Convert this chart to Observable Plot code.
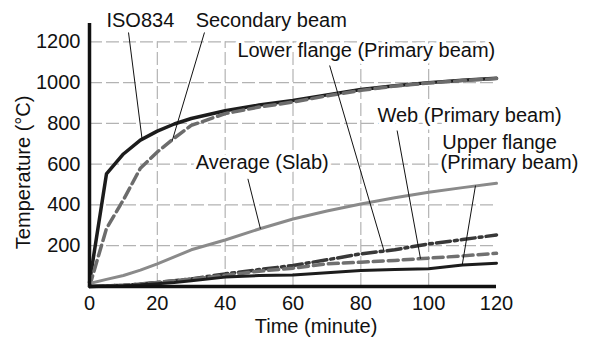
<!DOCTYPE html>
<html><head><meta charset="utf-8">
<script src="https://cdn.jsdelivr.net/npm/d3@7"></script>
<script src="https://cdn.jsdelivr.net/npm/@observablehq/plot@0.6"></script>
<style>body{margin:0;background:#fff} #chart svg{display:block}</style>
</head><body><div id="chart"></div>
<script>
// ---- data ----
const time          = [0, 5, 10, 15, 20, 25, 30, 40, 50, 60, 70, 80, 90, 100, 110, 120];
const iso834        = [20, 552, 650, 718, 762, 797, 824, 862, 890, 912, 940, 966, 985, 1000, 1012, 1022];
const secondaryBeam = [0, 284, 425, 580, 660, 728, 790, 848, 880, 905, 935, 962, 983, 998, 1010, 1020];
const averageSlab   = [15, 35, 54, 80, 111, 145, 180, 228, 282, 331, 370, 405, 435, 462, 485, 506];
const lowerFlange   = [0, 3, 6, 12, 20, 28, 37, 62, 83, 103, 131, 160, 180, 209, 230, 253];
const webPrimary    = [0, 3, 6, 12, 20, 28, 36, 55, 75, 90, 111, 119, 128, 139, 150, 163];
const upperFlange   = [0, 2, 4, 8, 14, 20, 28, 46, 54, 57, 67, 78, 83, 87, 106, 114];

const xTicks = [0, 20, 40, 60, 80, 100, 120];
const yTicks = [200, 400, 600, 800, 1000, 1200];
const xGrid  = [20, 40, 60, 80, 100];

// annotation labels (text, anchor point in data units)
const labelText = ["ISO834", "Secondary beam", "Lower flange (Primary beam)", "Web (Primary beam)", "Upper flange", "(Primary beam)", "Average (Slab)"];
const labelT    = [5.0, 31.3, 43.6, 84.9, 104.0, 103.5, 31.3];
const labelV    = [1305, 1305, 1157, 839, 708, 610, 610];

// leader lines: from label to curve
const leadT1 = [11.5, 33.9, 70.8, 90.7, 113.8, 46.7];
const leadV1 = [1246, 1246, 1084, 765, 495, 528];
const leadT2 = [15.5, 24.4, 86.8, 97.6, 109.9, 50.4];
const leadV2 = [723, 716, 177, 136, 106, 283];

// ---- styles ----
const styles = [
  {values: iso834,        stroke: "#1c1c1c", strokeWidth: 3.5, dash: null},
  {values: secondaryBeam, stroke: "#6c6c6c", strokeWidth: 3.5, dash: "11,5"},
  {values: averageSlab,   stroke: "#8a8a8a", strokeWidth: 3,   dash: null},
  {values: lowerFlange,   stroke: "#383838", strokeWidth: 3.5, dash: "14,4,3,4"},
  {values: webPrimary,    stroke: "#707070", strokeWidth: 3.5, dash: "10,5"},
  {values: upperFlange,   stroke: "#1c1c1c", strokeWidth: 3,   dash: null}
];

const labels = labelText.map((s, i) => ({s, t: labelT[i], v: labelV[i]}));
const leaders = leadT1.map((t, i) => ({t1: t, v1: leadV1[i], t2: leadT2[i], v2: leadV2[i]}));

const lineMarks = styles.map(st => Plot.line(time.map((t, i) => ({t, v: st.values[i]})), {
  x: "t", y: "v", stroke: st.stroke, strokeWidth: st.strokeWidth,
  strokeDasharray: st.dash ?? undefined, strokeLinejoin: "round", curve: "linear"
}));

const FS = 20;
const chart = Plot.plot({
  width: 591, height: 338,
  marginLeft: 89, marginRight: 95, marginTop: 23, marginBottom: 52,
  style: {fontFamily: "'Liberation Sans', Arial, sans-serif", fontSize: FS + "px", color: "#111", background: "#fff"},
  x: {domain: [0, 120]},
  y: {domain: [0, 1290]},
  marks: [
    Plot.ruleY(yTicks, {x1: 0, x2: 120, stroke: "#b3b3b3", strokeWidth: 1.2, strokeDasharray: "13,4"}),
    Plot.ruleX(xGrid, {y1: 0, y2: 1200, stroke: "#b3b3b3", strokeWidth: 1.2, strokeDasharray: "13,4"}),
    ...lineMarks,
    Plot.text(labels, {x: "t", y: "v", text: "s", textAnchor: "start", fill: "white", stroke: "white", strokeWidth: 7, fontSize: FS}),
    Plot.text(labels, {x: "t", y: "v", text: "s", textAnchor: "start", fill: "#111", fontSize: FS}),
    Plot.link(leaders, {x1: "t1", y1: "v1", x2: "t2", y2: "v2", stroke: "#111", strokeWidth: 1}),
    Plot.ruleX([0], {y1: 0, y2: 1290, stroke: "#111", strokeWidth: 3.5}),
    Plot.ruleY([0], {x1: 0, x2: 120, stroke: "#111", strokeWidth: 3.5}),
    Plot.axisX({ticks: xTicks, tickFormat: d => String(d), tickSize: 0, tickPadding: 9, label: null, fontSize: FS}),
    Plot.axisY({ticks: yTicks, tickFormat: d => String(d), tickSize: 0, tickPadding: 9, label: null, fontSize: FS}),
    Plot.text(["Time (minute)"], {x: 66.8, y: 0, dy: 40, text: d => d, fontSize: FS, fill: "#111"}),
    Plot.text(["Temperature (°C)"], {x: 0, y: 560, dx: -66, rotate: -90, text: d => d, fontSize: FS, fill: "#111"})
  ]
});
document.getElementById("chart").appendChild(chart);
</script>
</body></html>
